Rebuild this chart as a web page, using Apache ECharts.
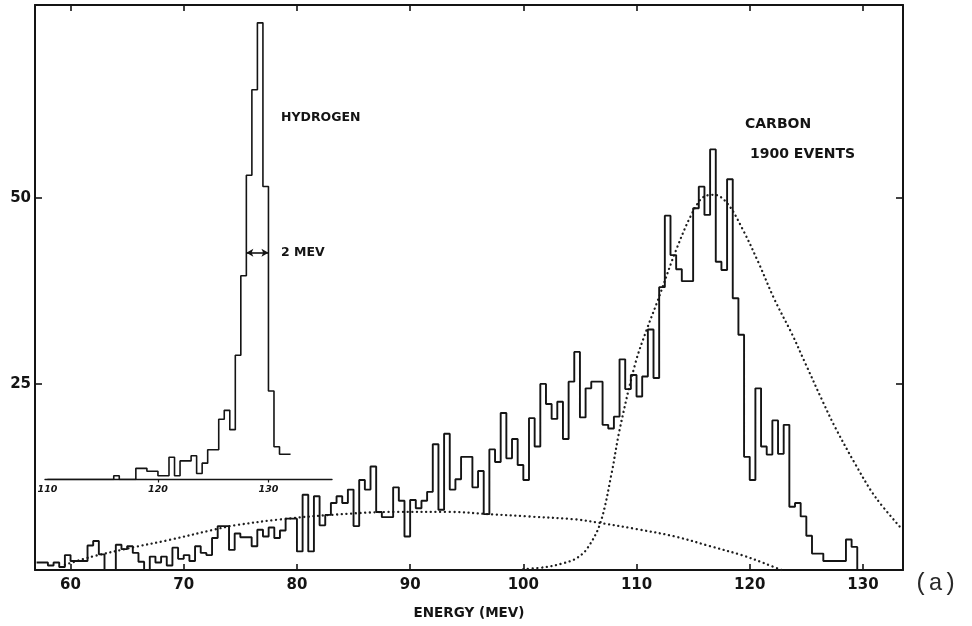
<!DOCTYPE html>
<html><head><meta charset="utf-8">
<style>html,body{margin:0;padding:0;background:#fff}#chart{width:972px;height:626px}</style>
<script src="https://cdn.jsdelivr.net/npm/echarts@6.0.0/dist/echarts.min.js"></script>
</head><body><div id="chart"></div>
<script>
// ---- data ----
const binWidth = 0.5;                 // MeV per histogram bin
const carbonStart = 57.0;             // left edge of first carbon bin (MeV)
const carbonCounts = [
  1.0,1.0,0.6,1.0,0.4,2.0,1.2,1.2,1.2,3.3,
  3.9,2.1,0,0,3.4,2.8,3.2,2.3,1.1,0,
  1.8,1.0,1.8,0.6,3.0,1.5,2.0,1.2,3.2,2.3,
  2.0,4.3,5.9,5.9,2.7,4.9,4.4,4.4,3.2,5.4,
  4.5,5.7,4.3,5.3,6.9,6.9,2.5,10.1,2.5,9.9,
  6.0,7.4,9.0,9.9,9.0,10.8,5.9,12.1,10.8,13.9,
  7.8,7.1,7.1,11.1,9.3,4.5,9.4,8.3,9.3,10.5,
  16.9,8.1,18.3,10.8,12.2,15.2,15.2,11.1,13.3,7.5,
  16.2,14.5,21.1,15.0,17.6,14.1,12.1,20.4,16.6,25.0,
  22.3,20.3,22.6,17.6,25.3,29.3,20.5,24.4,25.3,25.3,
  19.5,19.0,20.6,28.3,24.3,26.2,23.3,26.0,32.3,25.8,
  38.0,47.6,42.3,40.4,38.8,38.8,48.6,51.5,47.7,56.5,
  41.4,40.3,52.5,36.5,31.6,15.2,12.1,24.4,16.6,15.5,
  20.1,15.6,19.5,8.5,9.0,7.2,4.6,2.2,2.2,1.2,
  1.2,1.2,1.2,4.1,3.1
];
const hydrogenStart = 110.0;
const hydrogenCounts = [
  0,0,0,0,0,0,0,0,0,0,0,0,
  0.5,0,0,0,1.5,1.5,1.1,1.1,0.5,0.5,
  3.0,0.5,2.5,2.5,3.2,0.8,2.2,4.0,4.0,8.1,
  9.3,6.7,16.7,27.4,40.9,52.4,61.4,39.4,11.9,4.4,
  3.4,3.4
];
const backgroundEnergy = [59.5,61.9,65.7,68.6,72.9,74.5,78.5,83.0,88.5,93.5,97.0,100.4,104.6,106.9,110.0,113.4,116.5,119.3,121.3,122.8];
const backgroundCounts = [0.7,1.8,3.1,4.0,5.5,6.0,6.8,7.4,7.8,7.8,7.5,7.2,6.8,6.3,5.5,4.5,3.2,2.0,0.9,0.0];
const fitEnergy = [100.0,102.0,103.5,104.6,105.6,106.8,107.8,108.5,109.9,110.9,111.9,113.4,114.9,116.0,116.9,118.1,119.4,120.8,122.2,123.7,124.9,126.4,127.5,129.3,131.1,133.5];
const fitCounts = [0.1,0.4,0.9,1.5,2.8,6.3,13.0,18.8,27.8,32.3,36.3,42.6,47.9,50.2,50.4,49.1,45.7,41.2,36.3,31.8,27.8,22.8,19.3,14.3,9.8,5.4];
const energyTicks = [60,70,80,90,100,110,120,130];
const countTicks = [25,50];
const insetLabels = [110,120,130];
const insetTickMarks = [120,130];
const widthArrow = [128.0, 130.0];    // 2 MeV full width
const widthArrowLevel = 30.5;

// ---- build ----
function histogram(start, counts, dropToZero) {
  const pts = counts.map((c, i) => [start + i * binWidth, c]);
  const end = start + counts.length * binWidth;
  pts.push([end, dropToZero ? 0 : counts[counts.length - 1]]);
  return pts;
}
function zip(a, b) { return a.map((v, i) => [v, b[i]]); }

const INK = '#141414';
const FONT = '"DejaVu Sans", "Liberation Sans", sans-serif';
const chart = echarts.init(document.getElementById('chart'), null, {renderer: 'canvas'});

const frameLine = {onZero: false, lineStyle: {color: INK, width: 2}};
const mainX = {min: 56.86, max: 133.54};
const mainY = {min: 0, max: 75.9};
const dotStyle = {color: '#1e1e1e', width: 2.3, type: [0.1, 4.6], cap: 'round'};

chart.setOption({
  backgroundColor: '#ffffff',
  animation: false,
  textStyle: {fontFamily: FONT},
  grid: [
    {left: 35, right: 69, top: 5, bottom: 56, containLabel: false, outerBoundsMode: 'none'},
    {left: 45, right: 640, top: 5, bottom: 146.5, containLabel: false, outerBoundsMode: 'none'}
  ],
  xAxis: [
    Object.assign({type: 'value', gridIndex: 0, position: 'bottom',
      axisLine: frameLine,
      axisTick: {inside: true, length: 6, customValues: energyTicks, lineStyle: {color: INK, width: 1.6}},
      axisLabel: {customValues: energyTicks, margin: 8, color: INK, fontFamily: FONT, fontWeight: 'bold', fontSize: 15},
      splitLine: {show: false},
      name: 'ENERGY (MEV)', nameLocation: 'middle', nameGap: 36,
      nameTextStyle: {color: INK, fontFamily: FONT, fontWeight: 'bold', fontSize: 13.5}
    }, mainX),
    Object.assign({type: 'value', gridIndex: 0, position: 'top',
      axisLine: frameLine,
      axisTick: {inside: true, length: 6, customValues: energyTicks, lineStyle: {color: INK, width: 1.6}},
      axisLabel: {show: false}, splitLine: {show: false}
    }, mainX),
    {type: 'value', gridIndex: 1, min: 109.78, max: 135.75,
      axisLine: {onZero: false, lineStyle: {color: INK, width: 1.4}},
      axisTick: {inside: false, length: 3, customValues: insetTickMarks, lineStyle: {color: INK, width: 1.2}},
      axisLabel: {customValues: insetLabels, margin: 5, color: INK, fontFamily: FONT, fontWeight: 'bold', fontStyle: 'italic', fontSize: 9.5},
      splitLine: {show: false}
    }
  ],
  yAxis: [
    Object.assign({type: 'value', gridIndex: 0, position: 'left',
      axisLine: frameLine,
      axisTick: {inside: true, length: 7, customValues: countTicks, lineStyle: {color: INK, width: 1.6}},
      axisLabel: {customValues: countTicks, margin: 4, color: INK, fontFamily: FONT, fontWeight: 'bold', fontSize: 15},
      splitLine: {show: false}
    }, mainY),
    Object.assign({type: 'value', gridIndex: 0, position: 'right',
      axisLine: frameLine,
      axisTick: {inside: true, length: 7, customValues: countTicks, lineStyle: {color: INK, width: 1.6}},
      axisLabel: {show: false}, splitLine: {show: false}
    }, mainY),
    {type: 'value', gridIndex: 1, min: 0, max: 63.8, show: false}
  ],
  series: [
    {name: 'carbon', type: 'line', xAxisIndex: 0, yAxisIndex: 0, step: 'end',
      data: histogram(carbonStart, carbonCounts, true),
      showSymbol: false, lineStyle: {color: INK, width: 1.9}, z: 4, silent: true},
    {name: 'background', type: 'line', xAxisIndex: 0, yAxisIndex: 0, smooth: 0.35,
      data: zip(backgroundEnergy, backgroundCounts),
      showSymbol: false, lineStyle: dotStyle, z: 3, silent: true},
    {name: 'fit', type: 'line', xAxisIndex: 0, yAxisIndex: 0, smooth: 0.35,
      data: zip(fitEnergy, fitCounts),
      showSymbol: false, lineStyle: dotStyle, z: 3, silent: true},
    {name: 'hydrogen', type: 'line', xAxisIndex: 2, yAxisIndex: 2, step: 'end',
      data: histogram(hydrogenStart, hydrogenCounts, false),
      showSymbol: false, lineStyle: {color: INK, width: 1.6}, z: 4, silent: true,
      markLine: {silent: true, animation: false, symbol: ['arrow', 'arrow'], symbolSize: [6, 7],
        label: {show: false}, lineStyle: {type: 'solid', color: INK, width: 1.6},
        emphasis: {disabled: true},
        data: [[{coord: [widthArrow[0], widthArrowLevel]}, {coord: [widthArrow[1], widthArrowLevel]}]]}
    }
  ],
  graphic: [
    {type: 'text', x: 281, y: 118, silent: true, style: {text: 'HYDROGEN', fill: INK, font: 'bold 12.5px ' + FONT, verticalAlign: 'middle'}},
    {type: 'text', x: 281, y: 253, silent: true, style: {text: '2 MEV', fill: INK, font: 'bold 12.5px ' + FONT, verticalAlign: 'middle'}},
    {type: 'text', x: 745, y: 124, silent: true, style: {text: 'CARBON', fill: INK, font: 'bold 14px ' + FONT, verticalAlign: 'middle'}},
    {type: 'text', x: 750, y: 154, silent: true, style: {text: '1900 EVENTS', fill: INK, font: 'bold 14px ' + FONT, verticalAlign: 'middle'}},
    {type: 'text', x: 914, y: 584, silent: true, style: {text: '(a)', fill: '#2a2a2a', font: '24px "Liberation Mono", "DejaVu Sans Mono", monospace', verticalAlign: 'middle'}}
  ]
});
</script></body></html>
